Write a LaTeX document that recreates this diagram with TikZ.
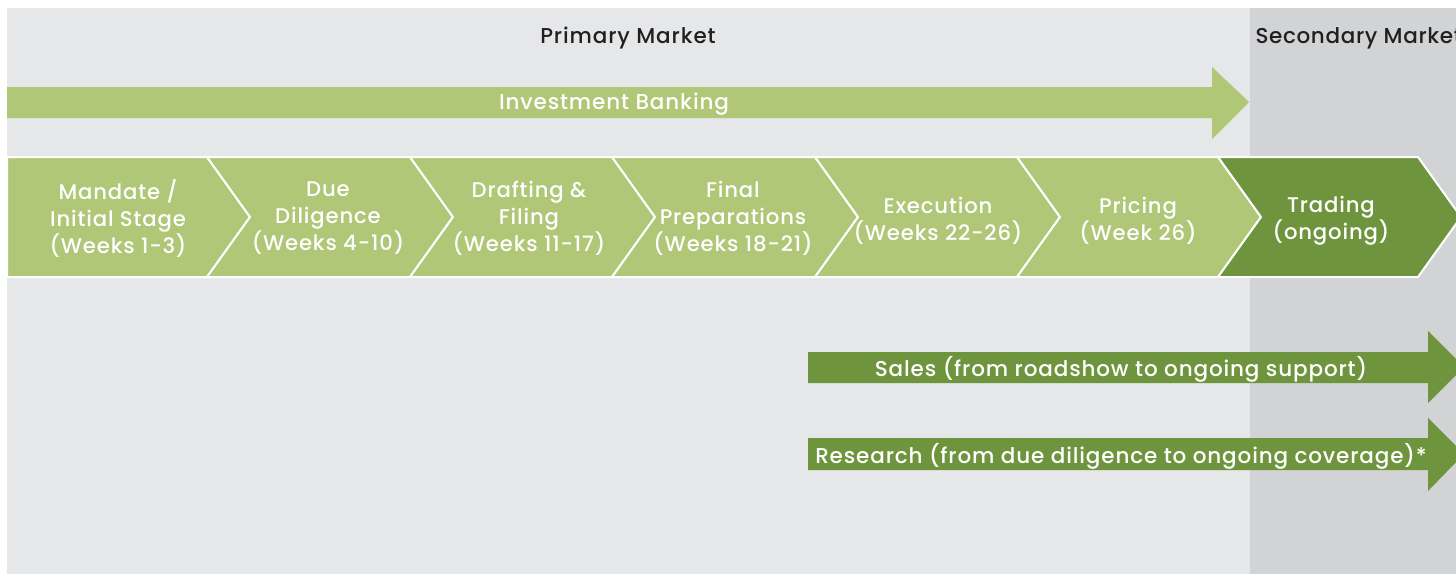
\documentclass[tikz,border=0pt]{standalone}
\usepackage{fontspec}
\setmainfont{Poppins}[UprightFont=* Medium, LetterSpace=4]
\definecolor{panel}{HTML}{E6E7E8}
\definecolor{panelDark}{HTML}{D1D3D4}
\definecolor{lightGreen}{HTML}{AFC777}
\definecolor{darkGreen}{HTML}{6E953E}
\definecolor{ink}{HTML}{231F20}
\tikzset{
  stagebox/.style={draw=white, line width=2pt, line join=miter},
  stagetext/.style={text=white, align=center, font=\fontsize{21.2}{27}\selectfont},
  bandtext/.style={text=white, font=\fontsize{21.5}{24}\selectfont},
  headtext/.style={text=ink, font=\fontsize{21.5}{24}\selectfont},
}
\begin{document}
\begin{tikzpicture}[x=1pt, y=-1pt]
  \useasboundingbox (0,0) rectangle (1456,574);
  % backgrounds
  \fill[white] (0,0) rectangle (1456,574);
  \fill[panel] (7,8) rectangle (1456,574);
  \fill[panelDark] (1250,8) rectangle (1456,574);

  % market headings
  \node[headtext] (primary) at (628,38) {Primary Market};
  \node[headtext, anchor=west] (secondary) at (1252,38)
       {\addfontfeatures{LetterSpace=3}Secondary Market};

  % investment banking band
  \fill[lightGreen] (7,87) -- (1212,87) -- (1212,67) -- (1249,102)
        -- (1212,139) -- (1212,118) -- (7,118) -- cycle;
  \node[bandtext] (ib) at (614,104) {Investment Banking};

  % process stages
  \path[stagebox, fill=lightGreen] (7,157) -- (207,157) -- (250,217)
        -- (207,277) -- (7,277) -- cycle;
  \foreach \l/\r in {207/410, 410/612, 612/815, 815/1017, 1017/1218}{
    \path[stagebox, fill=lightGreen] (\l,157) -- (\r,157) -- (\r+43,217)
          -- (\r,277) -- (\l,277) -- (\l+43,217) -- cycle;
  }
  \path[stagebox, fill=darkGreen] (1218,157) -- (1418,157) -- (1461,217)
        -- (1418,277) -- (1218,277) -- (1261,217) -- cycle;

  \node[stagetext] (s1) at (118,218.5) {Mandate /\\Initial Stage\\(Weeks 1-3)};
  \node[stagetext] (s2) at (328,218.5) {Due\\Diligence\\(Weeks 4-10)};
  \node[stagetext] (s3) at (529,218.5) {Drafting \&\\Filing\\(Weeks 11-17)};
  \node[stagetext] (s4) at (733,218.5) {Final\\Preparations\\(Weeks 18-21)};
  \node[stagetext] (s5) at (938,220.5) {Execution\\(Weeks 22-26)};
  \node[stagetext] (s6) at (1138,220.5) {Pricing\\(Week 26)};
  \node[stagetext] (s7) at (1331,220.5) {Trading\\(ongoing)};

  % sales and research bands
  \fill[darkGreen] (808,352) -- (1428,352) -- (1428,331) -- (1464,367)
        -- (1428,403) -- (1428,383) -- (808,383) -- cycle;
  \node[bandtext] (sales) at (1121,369) {Sales (from roadshow to ongoing support)};
  \fill[darkGreen] (808,438) -- (1428,438) -- (1428,418) -- (1464,454)
        -- (1428,491) -- (1428,470) -- (808,470) -- cycle;
  \node[bandtext] (research) at (1121,456) {Research (from due diligence to ongoing coverage)*};
\end{tikzpicture}
\end{document}
